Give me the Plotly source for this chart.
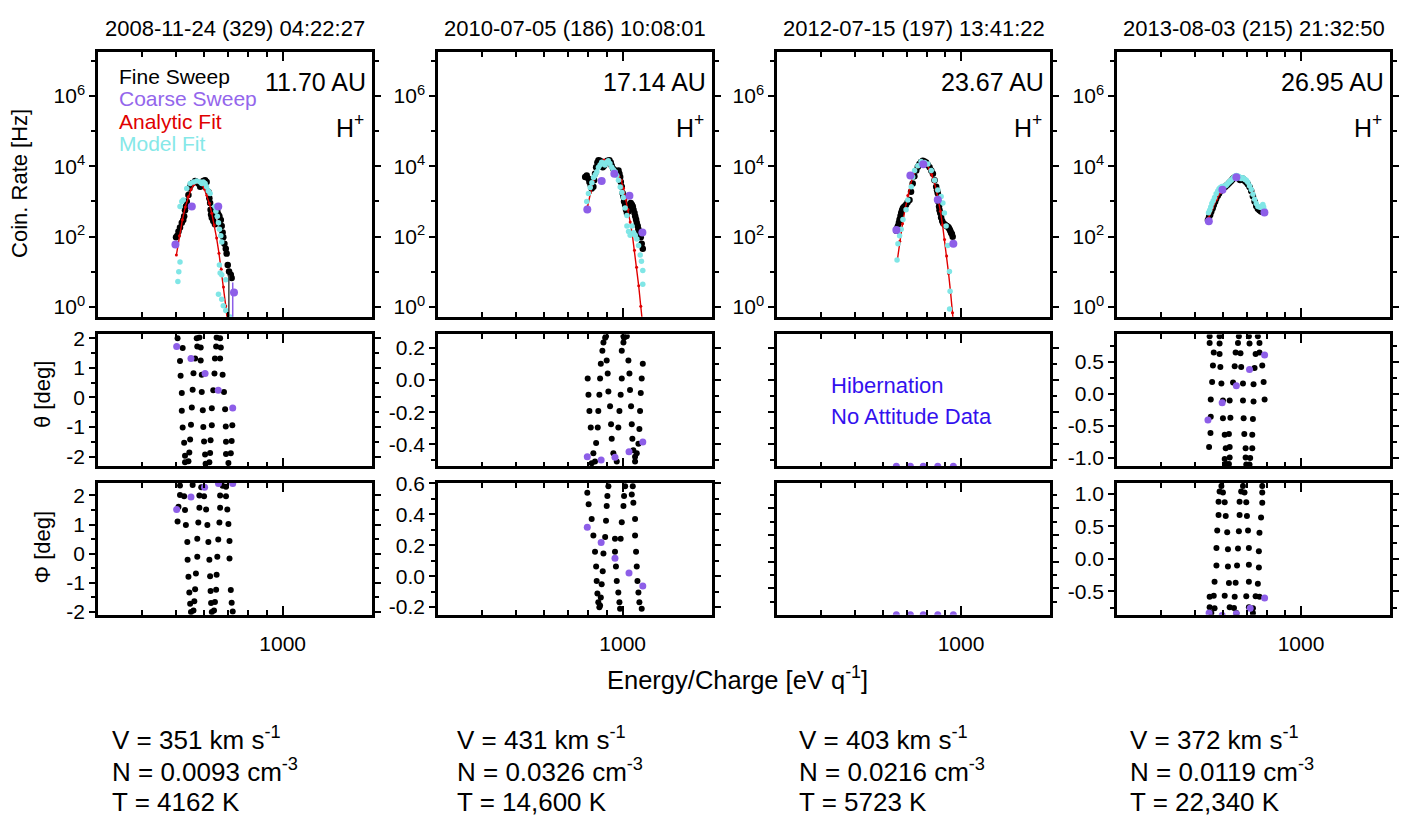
import math
import plotly.graph_objects as go

FONT = "Liberation Sans, Arial, Helvetica, sans-serif"

# ---------------- text ----------------
titles = ["2008-11-24 (329) 04:22:27", "2010-07-05 (186) 10:08:01",
          "2012-07-15 (197) 13:41:22", "2013-08-03 (215) 21:32:50"]
distances = ["11.70 AU", "17.14 AU", "23.67 AU", "26.95 AU"]
species = "H<sup>+</sup>"
legend_labels = ["Fine Sweep", "Coarse Sweep", "Analytic Fit", "Model Fit"]
speeds = ["351", "431", "403", "372"]
densities = ["0.0093", "0.0326", "0.0216", "0.0119"]
temperatures = ["4162", "14,600", "5723", "22,340"]
hibernation_text = ["Hibernation", "No Attitude Data"]

# ---------------- axes ticks ----------------
energy_range = [300, 1790]
energy_major = [1000]
energy_minor = [400, 500, 600, 700, 800, 900]
rate_range_log = [-0.28, 7.25]
rate_major = [1, 100, 1e4, 1e6]
rate_major_text = ["10<sup>0</sup>", "10<sup>2</sup>", "10<sup>4</sup>", "10<sup>6</sup>"]
rate_minor = [10, 1e3, 1e5, 1e7]

theta_ranges = [[-2.33, 2.13], [-0.538, 0.285], [-0.538, 0.285], [-1.13, 0.93]]
theta_ticks = [[-2, -1, 0, 1, 2], [-0.4, -0.2, 0, 0.2], [-0.4, -0.2, 0, 0.2], [-1.0, -0.5, 0, 0.5]]
theta_ticktext = [["-2", "-1", "0", "1", "2"], ["-0.4", "-0.2", "0.0", "0.2"],
                  None, ["-1.0", "-0.5", "0.0", "0.5"]]
theta_minor = [[-1.5, -0.5, 0.5, 1.5], [-0.5, -0.3, -0.1, 0.1], [-0.5, -0.3, -0.1, 0.1],
               [-0.75, -0.25, 0.25, 0.75]]
phi_ranges = [[-2.1, 2.43], [-0.25, 0.602], [-0.997, 1.476], [-0.86, 1.17]]
phi_ticks = [[-2, -1, 0, 1, 2], [-0.2, 0, 0.2, 0.4, 0.6], [-0.5, 0, 0.5, 1.0], [-0.5, 0, 0.5, 1.0]]
phi_ticktext = [["-2", "-1", "0", "1", "2"], ["-0.2", "0.0", "0.2", "0.4", "0.6"],
                None, ["-0.5", "0.0", "0.5", "1.0"]]
phi_minor = [[-1.5, -0.5, 0.5, 1.5], [-0.1, 0.1, 0.3, 0.5], [-0.75, -0.25, 0.25, 0.75, 1.25],
             [-0.75, -0.25, 0.25, 0.75]]

# ---------------- count-rate spectra ----------------
# Panel 1
fine1_E = [499, 503, 507, 512, 518, 523, 526, 529, 532, 535, 541, 544, 549, 556, 565, 571, 577, 584, 590, 596,
           603, 609, 616, 620, 623, 625, 627, 630, 636, 643, 647, 653, 658, 662, 668, 672, 676, 679, 684, 690,
           694, 699, 705, 713, 717]
fine1 = [96, 107, 140, 182, 250, 300, 383, 560, 726, 1000, 1530, 2340, 2900, 3370, 3830, 3590, 3230, 2610, 3300, 3830,
         4000, 3590, 1900, 1240, 900, 587, 427, 344, 278, 225, 474, 527, 420, 383, 300, 202, 132, 96, 63, 45,
         33, 15.6, 10.2, 8.2, 6.7]
coarse1_E = [497, 553, 657, 728]
coarse1 = [60, 726, 726, 2.6]
analytic1_E = [500, 510, 520, 530, 540, 550, 560, 570, 580, 590, 600, 610, 620, 630, 640, 650, 660, 670, 680, 690, 700]
analytic1 = [30, 106, 301, 702, 1355, 2188, 2992, 3483, 3483, 3020, 2280, 1514, 887, 462, 216, 91, 34, 11.8, 3.7,
             1.06, 0.28]
model1_E = [505, 508, 512, 512, 518, 523, 535, 547, 559, 571, 584, 590, 596, 603, 609, 616, 623, 643, 647, 653,
            658, 662, 668, 672, 662, 665, 672, 690, 658, 672, 679, 690, 710]
model1 = [5.3, 10, 19, 720, 1000, 1110, 2340, 3230, 3590, 3830, 3590, 3230, 3590, 3230, 2610, 2000, 1700, 726, 527, 383,
          250, 163, 107, 70, 15.6, 9.2, 8.2, 6.0, 2.3, 1.67, 1.09, 0.79, 0.52]
errbar1_fine_E = [704, 704]
errbar1_fine = [8.0, 0.4]
errbar1_coarse_E = [722, 722]
errbar1_coarse = [5.0, 0.4]

# Panel 2
fine2_E = [783, 791, 800, 805, 812, 817, 826, 830, 835, 841, 848, 854, 863, 872, 878, 886, 897, 905, 917, 925,
           931, 941, 951, 962, 973, 979, 984, 988, 994, 1000, 1005, 1009, 1016, 1022, 1028, 1039, 1045, 1054, 1062,
           1068, 1073, 1080, 1085, 1091, 1096, 1103, 1108, 1115, 1125, 1132, 1140]
fine2 = [4950, 5510, 4450, 3600, 2900, 2350, 2610, 4000, 6120, 9380, 12900, 15000, 14400, 11600, 9380, 10400, 12900,
         14400, 15000, 12900, 10400, 8430, 7590, 6820, 7590, 6120, 4950, 3600, 2610, 1710, 1380, 1000, 809, 587, 474,
         527, 726, 900, 809, 726, 587, 474, 383, 310, 250, 202, 163, 126, 96, 63, 45]
coarse2_E = [794, 872, 947, 1045, 1137]
coarse2 = [590, 3800, 6200, 1450, 132]
analytic2_E = [795, 810, 825, 840, 855, 870, 885, 900, 915, 930, 945, 960, 975, 990, 1005, 1020, 1035, 1050, 1065,
               1080, 1095, 1110, 1125, 1135]
analytic2 = [708, 1780, 3800, 6760, 10200, 13200, 15100, 14800, 12300, 9300, 7200, 6000, 5100, 4000, 2400, 1150,
             590, 263, 112, 41, 13.5, 4.0, 1.05, 0.45]
model2_E = [791, 800, 809, 818, 827, 836, 845, 854, 863, 872, 882, 891, 900, 910, 920, 931, 941, 952, 962, 973,
            984, 995, 1005, 1016, 1028, 1028, 1039, 1050, 1062, 1073, 1085, 1097, 1109, 1121, 1130, 1140, 1140]
model2 = [1000, 1700, 2500, 3400, 4800, 5800, 7000, 9400, 11000, 13000, 12000, 11000, 13000, 14400, 12000, 9400, 8000,
          7000, 5500, 4000, 2600, 1800, 1300, 650, 400, 200, 140, 110, 200, 130, 110, 86, 56, 30, 20, 11, 4.4]

# Panel 3
fine3_E = [655, 659, 662, 666, 669, 673, 676, 680, 684, 690, 698, 705, 714, 721, 729, 737, 746, 754, 762, 770,
           779, 787, 796, 805, 814, 823, 832, 841, 850, 855, 859, 862, 866, 869, 873, 878, 884, 890, 897, 904,
           911, 917, 922, 927, 932, 937, 942, 947]
fine3 = [148, 175, 200, 250, 310, 390, 474, 560, 653, 720, 809, 950, 1110, 1900, 3230, 5200, 7590, 9800, 11600, 13200,
         14400, 13800, 12900, 11000, 9380, 7600, 6120, 4000, 2610, 2100, 1710, 1000, 726, 560, 474, 350, 280, 240,
         225, 210, 202, 190, 182, 165, 147, 130, 119, 100]
coarse3_E = [655, 718, 781, 859, 951]
coarse3 = [155, 5500, 11500, 1120, 63]
analytic3_E = [659, 670, 682, 694, 706, 718, 730, 742, 754, 766, 778, 790, 802, 814, 826, 838, 850, 862, 874, 886,
               898, 910, 922, 934, 946, 952]
analytic3 = [21, 74, 234, 631, 1480, 2950, 5130, 7760, 10500, 12600, 13200, 12600, 10700, 8300, 5750, 3720, 2190,
             1175, 525, 219, 83, 28, 8.9, 2.6, 0.69, 0.33]
model3_E = [658, 662, 669, 676, 684, 698, 706, 722, 729, 738, 754, 770, 788, 805, 823, 841, 859, 878, 888, 897,
            907, 917, 927, 931, 928]
model3 = [21.6, 63, 107, 163, 310, 587, 1110, 2610, 4950, 7590, 10400, 13800, 12900, 11600, 7590, 4000, 2110, 1380,
          900, 474, 202, 56, 10.2, 2.8, 0.88]

# Panel 4
fine4_E = [544, 548, 552, 556, 561, 565, 570, 574, 580, 585, 590, 594, 599, 603, 608, 613, 618, 624, 629, 634,
           639, 643, 649, 655, 660, 666, 671, 676, 682, 687, 693, 699, 706, 714, 722, 730, 738, 746, 754, 762,
           770, 779, 787]
fine4 = [300, 360, 420, 520, 640, 800, 980, 1200, 1450, 1700, 1950, 2150, 2300, 2450, 2600, 2800, 3000, 3300, 3600,
         3900, 4300, 4600, 4900, 5000, 4700, 4400, 4100, 4300, 4500, 4200, 3800, 3500, 3100, 2600, 2000, 1400, 1000,
         750, 620, 560, 520, 500, 480]
coarse4_E = [547, 598, 655, 787]
coarse4 = [276, 2150, 4900, 490]
analytic4_E = [545, 560, 575, 590, 605, 620, 635, 650, 665, 680, 695, 710, 725, 740, 755, 770, 787]
analytic4 = [330, 650, 1150, 1800, 2600, 3400, 4200, 4800, 5000, 4800, 4100, 3000, 1900, 1200, 800, 620, 550]
model4_E = [546, 550, 554, 558, 563, 568, 574, 580, 585, 590, 596, 603, 608, 613, 618, 624, 629, 634, 640, 645,
            650, 655, 661, 666, 671, 676, 682, 687, 693, 699, 706, 714, 722, 730, 738, 746, 754, 762, 770, 775,
            779, 783, 787]
model4 = [480, 560, 700, 870, 1050, 1300, 1650, 2000, 2300, 2500, 2650, 2700, 2750, 2900, 3200, 3500, 3800, 4100,
          4500, 4900, 5300, 5500, 5300, 5100, 4700, 4500, 4700, 4600, 4200, 4000, 3500, 2800, 2200, 1600, 1150, 880,
          720, 700, 680, 750, 820, 700, 560]

# ---------------- theta (elevation) ----------------
theta1_E = [504, 571, 581, 650, 665, 521, 573, 586, 648, 668, 512, 565, 586, 643, 665, 514, 559, 590, 641, 676,
            518, 556, 590, 636, 682, 518, 553, 594, 630, 687, 521, 550, 596, 630, 690, 720, 526, 547, 599, 625,
            691, 717, 529, 544, 603, 623, 691, 713, 529, 541, 605, 620, 702]
theta1 = [2.0, 2.0, 2.03, 2.03, 2.0, 1.67, 1.72, 1.69, 1.72, 1.69, 1.23, 1.32, 1.25, 1.32, 1.32, 0.73, 0.82, 0.77,
          0.81, 0.77, 0.15, 0.26, 0.18, 0.24, 0.18, -0.45, -0.34, -0.43, -0.37, -0.40, -1.02, -0.92, -1.00, -0.94,
          -0.98, -0.94, -1.53, -1.42, -1.49, -1.45, -1.50, -1.47, -1.97, -1.86, -1.93, -1.88, -1.91, -1.89, -2.19,
          -2.16, -2.24, -2.19, -2.22]
theta1_coarse_E = [501, 550, 603, 657, 722]
theta1_coarse = [1.72, 1.32, 0.81, 0.24, -0.36]

theta2_E = [796, 800, 805, 812, 841, 826, 835, 817, 863, 859, 853, 850, 867, 876, 882, 892, 897, 901, 907, 911,
            921, 927, 931, 941, 962, 994, 987, 979, 972, 994, 1005, 1009, 1005, 1027, 1038, 1045, 1049, 1056, 1061,
            1065, 1072, 1084, 1140, 1132, 1125, 1120, 1115, 1108, 1096, 1084]
theta2 = [0.010, -0.092, -0.193, -0.295, -0.392, -0.457, -0.508, -0.519, 0.010, -0.092, -0.193, -0.295, 0.102, 0.183,
          0.234, 0.264, 0.274, 0.122, 0.041, -0.071, -0.163, -0.275, -0.366, -0.457, -0.508, 0.010, -0.092, -0.193,
          -0.295, 0.183, 0.234, 0.264, 0.274, 0.274, 0.122, 0.041, -0.061, -0.163, -0.275, -0.366, -0.437, -0.478,
          0.102, 0.010, -0.081, -0.193, -0.305, -0.397, -0.457, -0.508]
theta2_coarse_E = [794, 869, 951, 1042, 1140]
theta2_coarse = [-0.478, -0.498, -0.482, -0.447, -0.386]

theta3_E = []
theta3 = []
theta3_coarse_E = [655, 718, 781, 859, 951]
theta3_coarse = [-0.538, -0.538, -0.538, -0.538, -0.538]

theta4_E = [550, 587, 666, 711, 754, 550, 587, 662, 714, 762, 565, 587, 652, 673, 743, 762, 562, 590, 648, 676,
            738, 776, 559, 594, 641, 684, 733, 783, 554, 600, 627, 684, 733, 788, 554, 600, 630, 687, 730, 553,
            607, 624, 690, 727, 548, 611, 627, 696, 727, 607, 627, 696, 717, 613, 624, 699, 714]
theta4 = [0.900, 0.900, 0.900, 0.900, 0.900, 0.798, 0.788, 0.798, 0.788, 0.798, 0.646, 0.626, 0.646, 0.636, 0.626,
          0.646, 0.443, 0.422, 0.432, 0.422, 0.407, 0.443, 0.189, 0.163, 0.178, 0.163, 0.153, 0.189, -0.086, -0.101,
          -0.101, -0.101, -0.116, -0.086, -0.355, -0.380, -0.370, -0.380, -0.391, -0.609, -0.635, -0.624, -0.624,
          -0.635, -0.828, -0.848, -0.828, -0.848, -0.848, -1.016, -0.990, -0.990, -1.000, -1.092, -1.092, -1.102,
          -1.102]
theta4_coarse_E = [544, 597, 655, 714, 788]
theta4_coarse = [-0.406, -0.137, 0.128, 0.382, 0.610]

# ---------------- phi (azimuth) ----------------
phi1_E = [512, 556, 588, 676, 691, 512, 526, 581, 599, 665, 691, 507, 529, 581, 607, 665, 697, 504, 532, 577,
          612, 662, 702, 537, 573, 616, 657, 707, 538, 573, 620, 653, 707, 541, 568, 623, 650, 544, 565, 625,
          648, 713, 547, 562, 627, 643, 717, 550, 559, 630, 639, 722]
phi1 = [2.34, 2.36, 2.28, 2.33, 2.30, 2.02, 1.97, 2.0, 1.97, 2.0, 1.97, 1.61, 1.50, 1.58, 1.52, 1.58, 1.52, 1.11,
        0.99, 1.07, 0.99, 1.07, 1.02, 0.40, 0.51, 0.40, 0.49, 0.44, -0.21, -0.10, -0.21, -0.10, -0.16, -0.79, -0.68,
        -0.77, -0.72, -1.33, -1.22, -1.28, -1.24, -1.25, -1.72, -1.63, -1.69, -1.66, -1.68, -2.0, -1.95, -2.0,
        -1.95, -1.98]
phi1_coarse_E = [601, 658, 722, 550, 501]
phi1_coarse = [2.28, 2.41, 2.41, 1.95, 1.52]

phi2_E = [794, 801, 817, 826, 835, 841, 844, 848, 853, 859, 911, 905, 901, 897, 892, 882, 878, 872, 867, 863,
          951, 951, 957, 962, 972, 979, 983, 1016, 1009, 1005, 994, 987, 1068, 1061, 1072, 1084, 1084, 1091, 1096,
          1101, 1108, 1115, 1132]
phi2 = [0.538, 0.464, 0.369, 0.263, 0.158, 0.063, -0.032, -0.112, -0.169, -0.201, 0.580, 0.517, 0.453, 0.358, 0.253,
        0.147, 0.031, -0.053, -0.137, -0.190, 0.242, 0.158, 0.063, -0.032, -0.106, -0.169, -0.211, 0.580, 0.517,
        0.453, 0.348, 0.242, 0.580, 0.527, 0.474, 0.369, 0.263, 0.158, 0.063, -0.032, -0.106, -0.169, -0.211]
phi2_coarse_E = [794, 869, 951, 1042, 1140]
phi2_coarse = [0.316, 0.217, 0.116, 0.021, -0.064]

phi3_E = []
phi3 = []
phi3_coarse_E = [655, 718, 781, 859, 951]
phi3_coarse = [-0.997, -0.997, -0.997, -0.997, -0.997]

phi4_E = [594, 684, 776, 587, 600, 676, 691, 776, 583, 607, 669, 699, 776, 583, 611, 669, 702, 770, 578, 617,
          666, 707, 762, 575, 620, 662, 711, 759, 575, 620, 658, 711, 759, 568, 624, 652, 711, 754, 550, 565,
          607, 648, 699, 743, 762, 550, 568, 627, 645, 711, 730, 556, 655, 730]
phi4 = [1.125, 1.125, 1.125, 1.040, 1.025, 1.040, 1.025, 1.025, 0.879, 0.874, 0.879, 0.874, 0.864, 0.678, 0.663,
        0.678, 0.663, 0.638, 0.437, 0.412, 0.427, 0.437, 0.402, 0.171, 0.151, 0.161, 0.171, 0.121, -0.100, -0.115,
        -0.100, -0.090, -0.130, -0.351, -0.371, -0.366, -0.351, -0.381, -0.582, -0.567, -0.567, -0.582, -0.572,
        -0.572, -0.582, -0.743, -0.758, -0.743, -0.753, -0.743, -0.758, -0.833, -0.833, -0.833]
phi4_coarse_E = [788, 717, 655, 597, 548]
phi4_coarse = [-0.602, -0.758, -0.843, -0.868, -0.833]

# ---------------- style ----------------
BLACK = "#000000"
PURPLE = "#8d5ee8"
RED = "#e00000"
CYAN = "#80e6e6"
BLUE = "#3311ee"
legend_colors = [BLACK, "#9466ec", RED, "#86e8e8"]

W, H = 1403, 831
COLS = [(98, 372), (438, 712), (777, 1050), (1117, 1390)]
ROWS = [(42, 313), (331, 466), (483, 618)]

spectra = [
    (fine1_E, fine1, coarse1_E, coarse1, analytic1_E, analytic1, model1_E, model1),
    (fine2_E, fine2, coarse2_E, coarse2, analytic2_E, analytic2, model2_E, model2),
    (fine3_E, fine3, coarse3_E, coarse3, analytic3_E, analytic3, model3_E, model3),
    (fine4_E, fine4, coarse4_E, coarse4, analytic4_E, analytic4, model4_E, model4),
]
thetas = [
    (theta1_E, theta1, theta1_coarse_E, theta1_coarse),
    (theta2_E, theta2, theta2_coarse_E, theta2_coarse),
    (theta3_E, theta3, theta3_coarse_E, theta3_coarse),
    (theta4_E, theta4, theta4_coarse_E, theta4_coarse),
]
phis = [
    (phi1_E, phi1, phi1_coarse_E, phi1_coarse),
    (phi2_E, phi2, phi2_coarse_E, phi2_coarse),
    (phi3_E, phi3, phi3_coarse_E, phi3_coarse),
    (phi4_E, phi4, phi4_coarse_E, phi4_coarse),
]


def ax_id(r, c):
    i = r * 4 + c + 1
    return ("x" if i == 1 else f"x{i}"), ("y" if i == 1 else f"y{i}"), i


fig = go.Figure()

for c in range(4):
    fe, fr, ce, cr, ae, ar, me, mr = spectra[c]
    xa, ya, _ = ax_id(0, c)
    fig.add_trace(go.Scatter(x=fe, y=fr, mode="markers", xaxis=xa, yaxis=ya,
                             marker=dict(color=BLACK, size=6.5)))
    fig.add_trace(go.Scatter(x=ae, y=ar, mode="lines+markers", xaxis=xa, yaxis=ya,
                             line=dict(color=RED, width=1.4), marker=dict(color=RED, size=3)))
    fig.add_trace(go.Scatter(x=me, y=mr, mode="markers", xaxis=xa, yaxis=ya,
                             marker=dict(color=CYAN, size=5.5)))
    if c == 0:
        fig.add_trace(go.Scatter(x=errbar1_fine_E, y=errbar1_fine, mode="lines", xaxis=xa, yaxis=ya,
                                 line=dict(color="#444444", width=1.5)))
        fig.add_trace(go.Scatter(x=errbar1_coarse_E, y=errbar1_coarse, mode="lines", xaxis=xa, yaxis=ya,
                                 line=dict(color=PURPLE, width=1.5)))
    fig.add_trace(go.Scatter(x=ce, y=cr, mode="markers", xaxis=xa, yaxis=ya,
                             marker=dict(color=PURPLE, size=8)))

    for r, data in ((1, thetas[c]), (2, phis[c])):
        e1, v1, e2, v2 = data
        xa, ya, _ = ax_id(r, c)
        fig.add_trace(go.Scatter(x=e1, y=v1, mode="markers", xaxis=xa, yaxis=ya,
                                 marker=dict(color=BLACK, size=6)))
        fig.add_trace(go.Scatter(x=e2, y=v2, mode="markers", xaxis=xa, yaxis=ya,
                                 marker=dict(color=PURPLE, size=7)))

layout = dict(width=W, height=H, margin=dict(l=0, r=0, t=0, b=0),
              paper_bgcolor="white", plot_bgcolor="white", showlegend=False,
              font=dict(family=FONT, size=21, color="black"))

for r in range(3):
    for c in range(4):
        xa, ya, i = ax_id(r, c)
        xkey = "xaxis" if i == 1 else f"xaxis{i}"
        ykey = "yaxis" if i == 1 else f"yaxis{i}"
        layout[xkey] = dict(
            domain=[COLS[c][0] / W, COLS[c][1] / W], anchor=ya, type="log",
            range=[math.log10(energy_range[0]), math.log10(energy_range[1])],
            tickmode="array", tickvals=energy_major, ticktext=["1000"],
            showticklabels=(r == 2), ticks="inside", ticklen=9, tickwidth=2, tickcolor="black",
            ticklabelstandoff=8,
            showline=True, linewidth=2.5, linecolor="black", mirror="allticks",
            showgrid=False, zeroline=False,
            minor=dict(tickmode="array", tickvals=energy_minor, ticks="inside", ticklen=5,
                       tickwidth=2, tickcolor="black", showgrid=False),
            tickfont=dict(size=21, family=FONT, color="black"),
        )
        ydom = [1 - ROWS[r][1] / H, 1 - ROWS[r][0] / H]
        show_labels = True
        if r == 0:
            ydict = dict(type="log", range=rate_range_log, tickvals=rate_major, ticktext=rate_major_text,
                         minor=dict(tickmode="array", tickvals=rate_minor, ticks="outside", ticklen=4,
                                    tickwidth=2, tickcolor="black", showgrid=False))
        elif r == 1:
            ydict = dict(type="linear", range=theta_ranges[c], tickvals=theta_ticks[c],
                         minor=dict(tickmode="array", tickvals=theta_minor[c], ticks="outside", ticklen=4,
                                    tickwidth=2, tickcolor="black", showgrid=False))
            if theta_ticktext[c] is None:
                show_labels = False
            else:
                ydict["ticktext"] = theta_ticktext[c]
        else:
            ydict = dict(type="linear", range=phi_ranges[c], tickvals=phi_ticks[c],
                         minor=dict(tickmode="array", tickvals=phi_minor[c], ticks="outside", ticklen=4,
                                    tickwidth=2, tickcolor="black", showgrid=False))
            if phi_ticktext[c] is None:
                show_labels = False
            else:
                ydict["ticktext"] = phi_ticktext[c]
        ydict.update(domain=ydom, anchor=xa, tickmode="array", ticks="outside", ticklen=6, tickwidth=2,
                     tickcolor="black", showline=True, linewidth=2.5, linecolor="black", mirror="allticks",
                     showgrid=False, zeroline=False, showticklabels=show_labels,
                     tickfont=dict(size=21, family=FONT, color="black"))
        layout[ykey] = ydict

ann = []


def add_text(x, y, text, size, color="black", xanchor="center", angle=0):
    ann.append(dict(x=x / W, y=1 - y / H, xref="paper", yref="paper", text=text, showarrow=False,
                    xanchor=xanchor, yanchor="middle", textangle=angle,
                    font=dict(size=size, color=color, family=FONT)))


for c in range(4):
    x0, x1 = COLS[c]
    add_text((x0 + x1) / 2, 18, titles[c], 22)
    add_text(x1 - 4, 73, distances[c], 25, xanchor="right")
    add_text(x1 - 6, 118, species, 25, xanchor="right")

for k, lab in enumerate(legend_labels):
    add_text(117, [67, 90, 113, 136][k], lab, 21, color=legend_colors[k], xanchor="left")

add_text(829, 383, hibernation_text[0], 22, color=BLUE, xanchor="left")
add_text(829, 415, hibernation_text[1], 22, color=BLUE, xanchor="left")

add_text(20, 177, "Coin. Rate [Hz]", 22, angle=-90)
add_text(42, 393, "θ [deg]", 22, angle=-90)
add_text(42, 549, "Φ [deg]", 22, angle=-90)
add_text(737, 683, "Energy/Charge [eV q<sup>-1</sup>]", 25.5)

text_x = [110, 455, 797, 1128]
for c in range(4):
    add_text(text_x[c], 745, f"V = {speeds[c]} km s<sup>-1</sup>", 26, xanchor="left")
    add_text(text_x[c], 777, f"N = {densities[c]} cm<sup>-3</sup>", 26, xanchor="left")
    add_text(text_x[c], 809, f"T = {temperatures[c]} K", 26, xanchor="left")

layout["annotations"] = ann
fig.update_layout(**layout)
fig.write_html("out.html")
